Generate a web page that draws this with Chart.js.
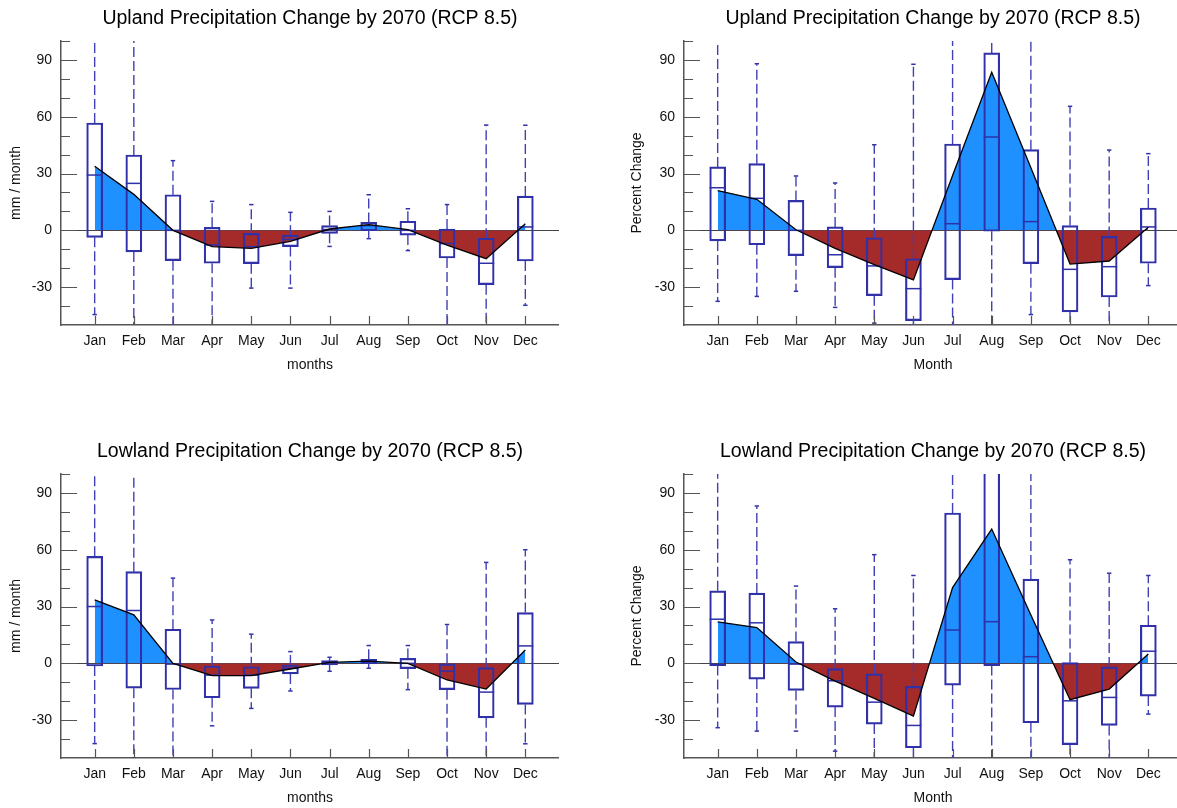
<!DOCTYPE html>
<html>
<head>
<meta charset="utf-8">
<script src="https://cdn.jsdelivr.net/npm/chart.js@4.4.0/dist/chart.umd.min.js"></script>
<style>
  html, body { margin: 0; padding: 0; background: #fff; overflow: hidden; width: 1177px; height: 808px; }
  canvas { position: absolute; }
</style>
</head>
<body>
<canvas id="upMm" width="559" height="377" style="left:0;top:0"></canvas>
<canvas id="upPct" width="559" height="377" style="left:623px;top:0"></canvas>
<canvas id="lowMm" width="559" height="377" style="left:0;top:433px"></canvas>
<canvas id="lowPct" width="559" height="377" style="left:623px;top:433px"></canvas>
<script>
const months = ['Jan', 'Feb', 'Mar', 'Apr', 'May', 'Jun', 'Jul', 'Aug', 'Sep', 'Oct', 'Nov', 'Dec'];
const yTickValues = [-30, 0, 30, 60, 90];
const yMarkValues = [-40, -30, -20, -10, 0, 10, 20, 30, 40, 50, 60, 70, 80, 90, 100];

// Upland, mm / month
const upMmMean = [33.8, 19, 0, -8.6, -9.5, -5.8, 0.7, 3, 0.4, -7.8, -15, 3.5];
const upMmQ1 = [-3.7, -11.4, -16, -17.4, -17.6, -8.6, -1.6, -0.2, -2.5, -14.6, -28.7, -16.2];
const upMmMed = [29.2, 24.8, 0, -7.7, -8.6, -4.8, 0.4, 2.5, 0, -7, -17.4, 1.8];
const upMmQ3 = [56.7, 39.8, 18.8, 1.6, -1.6, -2.6, 2.5, 4.2, 4.8, 0.7, -4.2, 18.1];
const upMmLo = [-44.5, -60, -60, -60, -30.5, -30.5, -8.5, -4.4, -10.7, -60, -60, -39.6];
const upMmHi = [120, 120, 36.8, 15.3, 13.6, 9.5, 10, 18.8, 11.4, 13.6, 55.6, 55.5];

// Upland, percent change
const upPctMean = [21, 16.4, 0.3, -9.5, -18.1, -26.2, 29, 83.5, 33, -17.8, -16.2, 1.6];
const upPctQ1 = [-5.6, -7.6, -13.4, -19.7, -34.5, -47.7, -26, -0.5, -17.6, -43.1, -35.2, -17.4];
const upPctMed = [22.5, 16.9, 0, -12.9, -18.8, -30.8, 3.5, 49.3, 4.6, -20.6, -19.2, 1.8];
const upPctQ3 = [33.5, 35.2, 15.8, 1.8, -3.9, -15, 45.6, 93.7, 42.6, 2.5, -3.2, 11.8];
const upPctLo = [-37.5, -34.9, -32.2, -40.7, -49, -60, -60, -60, -44.5, -60, -60, -29.2];
const upPctHi = [110, 88, 28.7, 25, 45.2, 87.7, 120, 120, 120, 65.5, 42.4, 40.5];

// Lowland, mm / month
const lowMmMean = [33.5, 25.6, 0, -6.5, -6.5, -3, 0.5, 1.2, 0, -8.8, -13.6, 7];
const lowMmQ1 = [-1.4, -13.1, -13.8, -18.2, -13.2, -5.6, -0.9, -0.2, -2.8, -13.9, -28.8, -21.7];
const lowMmMed = [30, 27.9, -0.4, -6.2, -6.2, -2.6, 0.4, 1.2, 0, -4.1, -15.2, 9.2];
const lowMmQ3 = [56.5, 48.4, 18, -1.4, -1.8, -0.9, 1.4, 2.1, 2.6, 0, -2.3, 26.8];
const lowMmLo = [-42.4, -50, -60, -33, -23.8, -14.6, -4.2, -2.6, -13.9, -60, -60, -42.5];
const lowMmHi = [120, 120, 45, 22.9, 15.4, 6.2, 3.2, 9.4, 9.4, 20.5, 53.3, 60];

// Lowland, percent change
const lowPctMean = [21.9, 18.9, 0.7, -9.4, -18.5, -27.9, 40, 70.9, 25.5, -19.2, -13.6, 4.9];
const lowPctQ1 = [-1.2, -8.3, -14.3, -23.1, -32.1, -44.6, -11.5, -1.2, -31.4, -42.9, -32.8, -17.3];
const lowPctMed = [23.3, 21.4, -0.4, -9.2, -20.5, -32.8, 17.6, 22, 3.5, -19.8, -18, 6.4];
const lowPctQ3 = [38.3, 37.1, 11.5, -2.8, -5.6, -12.2, 79.4, 120, 44.5, 0.4, -1.9, 20.1];
const lowPctLo = [-34, -35.8, -35.8, -46.4, -60, -60, -60, -60, -60, -60, -60, -26.8];
const lowPctHi = [120, 83.1, 40.8, 28.8, 57.4, 46.4, 120, 150, 120, 54.7, 47.6, 46.4];

const FONT = '"Liberation Sans", Arial, Helvetica, sans-serif';
const BLUE = 'rgb(30,144,255)';
const BROWN = 'rgb(165,42,42)';
const BOX = '#3030a8';
const WHISKER = '#4040b4';
const AXIS = '#555';
const TEXT = '#111';

Chart.defaults.font.family = FONT;

// NCL-style tick marks pointing into the plot
const inwardTicks = {
  id: 'inwardTicks',
  afterDatasetsDraw(chart) {
    const {ctx, chartArea: a, scales: {x, y}} = chart;
    ctx.save();
    ctx.strokeStyle = AXIS;
    ctx.lineWidth = 1.2;
    ctx.beginPath();
    yMarkValues.forEach(v => {
      const py = Math.round(y.getPixelForValue(v)) + 0.5;
      const len = yTickValues.includes(v) ? 16 : 9;
      ctx.moveTo(a.left, py);
      ctx.lineTo(a.left + len, py);
    });
    months.forEach((m, i) => {
      const px = Math.round(x.getPixelForValue(i)) + 0.5;
      ctx.moveTo(px, a.bottom);
      ctx.lineTo(px, a.bottom - 9);
    });
    ctx.stroke();
    ctx.restore();
  }
};

function points(values) {
  return values.map((v, i) => ({x: i, y: v}));
}

function whisker(from, to) {
  return from.flatMap((v, i) => [{x: i, y: v}, {x: i, y: to[i]}, {x: i, y: null}]);
}

function createBoxChart(id, title, yLabel, xLabel, s, yTitlePad) {
  const ctx = document.getElementById(id).getContext('2d');
  return new Chart(ctx, {
    type: 'bar',
    data: {
      datasets: [
        {
          type: 'line', label: 'mean', data: points(s.mean), order: 0,
          borderColor: '#000', borderWidth: 1.3, pointRadius: 0, tension: 0,
          backgroundColor: BLUE,
          fill: {target: {value: 0}, above: BLUE, below: BROWN}
        },
        {
          type: 'bar', label: 'box', order: 1,
          data: s.q1.map((v, i) => ({x: i, y: [v, s.q3[i]]})),
          backgroundColor: 'rgba(0,0,0,0)', borderColor: BOX, borderWidth: 1.5,
          borderSkipped: false, barThickness: 16
        },
        {
          type: 'scatter', label: 'median', order: 1, data: points(s.med),
          pointStyle: 'line', pointRadius: 8, pointBorderWidth: 1.5, pointBorderColor: BOX
        },
        {
          type: 'line', label: 'upper', order: 2, data: whisker(s.q3, s.hi),
          borderColor: WHISKER, borderWidth: 1.4, borderDash: [10, 4], pointRadius: 0, spanGaps: false, fill: false
        },
        {
          type: 'line', label: 'lower', order: 2, data: whisker(s.q1, s.lo),
          borderColor: WHISKER, borderWidth: 1.4, borderDash: [10, 4], pointRadius: 0, spanGaps: false, fill: false
        },
        {
          type: 'scatter', label: 'caps', order: 2, data: points(s.hi).concat(points(s.lo)),
          pointStyle: 'line', pointRadius: 2.2, pointBorderWidth: 1.5, pointBorderColor: BOX
        }
      ]
    },
    options: {
      responsive: false,
      animation: false,
      events: [],
      layout: {padding: 0, autoPadding: false},
      plugins: {
        legend: {display: false},
        tooltip: {enabled: false},
        filler: {drawTime: 'beforeDatasetsDraw'},
        title: {
          display: true, text: title, fullSize: false, color: '#000',
          font: {size: 19.5, weight: 'normal'}, padding: {top: 7, bottom: 10.6}
        }
      },
      scales: {
        x: {
          type: 'linear', min: -0.86, max: 11.86, offset: false,
          afterBuildTicks: sc => { sc.ticks = months.map((m, i) => ({value: i})); },
          afterFit: sc => { sc.height = 52; },
          ticks: {callback: v => months[v], font: {size: 14}, color: TEXT, padding: 8, maxRotation: 0, autoSkip: false},
          grid: {display: false, drawTicks: false},
          border: {display: true, color: AXIS, width: 1.5},
          title: {display: true, text: xLabel, font: {size: 14}, color: TEXT, padding: {top: 0, bottom: 3}}
        },
        y: {
          type: 'linear', min: -50, max: 100, z: 1,
          afterBuildTicks: sc => { sc.ticks = yTickValues.map(v => ({value: v})); },
          afterFit: sc => { sc.width = 61; },
          ticks: {font: {size: 14}, color: TEXT, padding: 9},
          grid: {drawTicks: false, lineWidth: 1, color: c => (c.tick && c.tick.value === 0 ? '#444' : 'rgba(0,0,0,0)')},
          border: {display: true, color: AXIS, width: 1.5},
          title: {display: true, text: yLabel, font: {size: 14}, color: TEXT, padding: {top: yTitlePad, bottom: 0}}
        }
      }
    },
    plugins: [inwardTicks]
  });
}

createBoxChart('upMm', 'Upland Precipitation Change by 2070 (RCP 8.5)', 'mm / month', 'months',
  {mean: upMmMean, q1: upMmQ1, med: upMmMed, q3: upMmQ3, lo: upMmLo, hi: upMmHi}, 8);
createBoxChart('upPct', 'Upland Precipitation Change by 2070 (RCP 8.5)', 'Percent Change', 'Month',
  {mean: upPctMean, q1: upPctQ1, med: upPctMed, q3: upPctQ3, lo: upPctLo, hi: upPctHi}, 6);
createBoxChart('lowMm', 'Lowland Precipitation Change by 2070 (RCP 8.5)', 'mm / month', 'months',
  {mean: lowMmMean, q1: lowMmQ1, med: lowMmMed, q3: lowMmQ3, lo: lowMmLo, hi: lowMmHi}, 8);
createBoxChart('lowPct', 'Lowland Precipitation Change by 2070 (RCP 8.5)', 'Percent Change', 'Month',
  {mean: lowPctMean, q1: lowPctQ1, med: lowPctMed, q3: lowPctQ3, lo: lowPctLo, hi: lowPctHi}, 6);
</script>
</body>
</html>
